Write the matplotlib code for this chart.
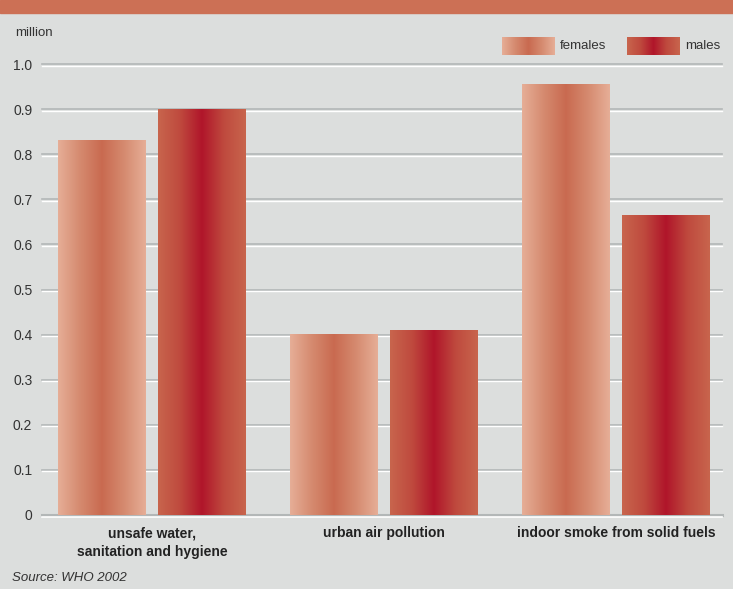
import numpy as np
import matplotlib.pyplot as plt
import matplotlib.transforms as mtransforms
from matplotlib.colors import LinearSegmentedColormap

categories = ["unsafe water,\nsanitation and hygiene", "urban air pollution", "indoor smoke from solid fuels"]
females = [0.83, 0.40, 0.955]
males = [0.90, 0.41, 0.665]
yticks = [0, 0.1, 0.2, 0.3, 0.4, 0.5, 0.6, 0.7, 0.8, 0.9, 1.0]
ytick_labels = ["0", "0.1", "0.2", "0.3", "0.4", "0.5", "0.6", "0.7", "0.8", "0.9", "1.0"]

plt.rcParams['font.family'] = ['Liberation Sans', 'DejaVu Sans']

bg = "#dcdedd"
fem_cmap = LinearSegmentedColormap.from_list("fem", ["#e6ae97", "#d58a6f", "#c96a50", "#d58a6f", "#e6ae97"])
male_cmap = LinearSegmentedColormap.from_list("male", ["#c8654d", "#bf4a3e", "#b0152a", "#bf4a3e", "#c8654d"])
grad = np.linspace(0, 1, 256).reshape(1, -1)

W, H = 733, 589
fig = plt.figure(figsize=(W / 100, H / 100), dpi=100, facecolor=bg)

# top band
fig.patches.append(plt.Rectangle((0, 1 - 13 / H), 1, 13 / H, transform=fig.transFigure,
                                 color="#cc7055", zorder=0))

ax = fig.add_axes([42 / W, (H - 515) / H, 680 / W, 451 / H])
ax.set_facecolor(bg)

# embossed gridlines
white_tr = mtransforms.offset_copy(ax.get_yaxis_transform(), fig=fig, y=-1.5, units='dots')
for y in yticks[1:]:
    ax.plot([0, 1], [y, y], transform=ax.get_yaxis_transform(), color="#b3b7b7", lw=1.2, zorder=1, clip_on=False)
    ax.plot([0, 1], [y, y], transform=white_tr, color="white", lw=1.0, zorder=1, clip_on=False)
ax.plot([0, 1], [0, 0], transform=ax.get_yaxis_transform(), color="#b3b7b7", lw=2.2, zorder=1, clip_on=False)
ax.plot([0, 1], [0, 0], transform=white_tr, color="white", lw=1.2, zorder=1, clip_on=False)

x = np.arange(len(categories))
w = 0.379
off = 0.2155
bars_f = ax.bar(x - off, females, w, color="none", zorder=2)
bars_m = ax.bar(x + off, males, w, color="none", zorder=2)
for bars, cmap in ((bars_f, fem_cmap), (bars_m, male_cmap)):
    for b in bars:
        x0, y0 = b.get_x(), b.get_y()
        ax.imshow(grad, cmap=cmap, aspect="auto", zorder=3,
                  extent=(x0, x0 + b.get_width(), y0, y0 + b.get_height()))
ax.set_xlim(-0.474, 2.457)
ax.set_ylim(0, 1.0)

for s in ax.spines.values():
    s.set_visible(False)
ax.set_yticks(yticks)
ax.set_yticklabels(ytick_labels, fontsize=10, color="#333333")
ax.tick_params(axis="y", length=0, pad=7)
ax.set_xticks(x)
ax.set_xticklabels(categories, fontsize=10, fontweight="bold", color="#222222", linespacing=1.45)
ax.tick_params(axis="x", length=0, pad=8)

fig.text(15 / W, 1 - 33 / H, "million", fontsize=9.5, color="#333333", va="center")

# legend swatches
for xl, cmap, lab in ((502, fem_cmap, "females"), (627, male_cmap, "males")):
    sax = fig.add_axes([xl / W, 1 - 55 / H, 53 / W, 18 / H])
    sax.imshow(grad, cmap=cmap, aspect="auto")
    sax.axis("off")
    fig.text((xl + 58) / W, 1 - 46 / H, lab, fontsize=9.5, color="#333333", va="center")

fig.text(12 / W, 1 - 578 / H, "Source: WHO 2002", fontsize=9.5, style="italic", color="#333333", va="center")

fig.savefig("out.png", dpi=100, facecolor=bg)
